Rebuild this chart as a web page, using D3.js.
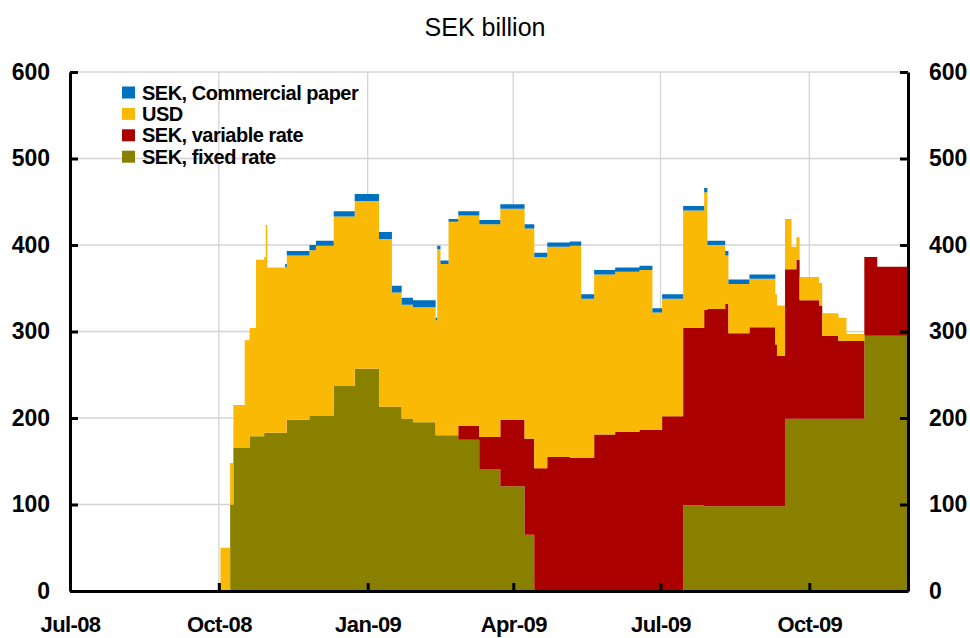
<!DOCTYPE html>
<html>
<head>
<meta charset="utf-8">
<script src="https://cdn.jsdelivr.net/npm/d3@7"></script>
<style>
    body { margin: 0; background: #fff; }
    svg text { font-family: "Liberation Sans", Arial, sans-serif; fill: #000; }
</style>
</head>
<body>
<svg id="chart" width="970" height="638"></svg>
<script>
// start dates of each step; every value holds until the next date
var dates = ["2008-10-02","2008-10-08","2008-10-10","2008-10-17","2008-10-20","2008-10-24",
    "2008-10-29","2008-10-30","2008-10-31","2008-11-11","2008-11-12","2008-11-26","2008-11-30",
    "2008-12-11","2008-12-24","2009-01-08","2009-01-16","2009-01-22","2009-01-29","2009-02-12",
    "2009-02-13","2009-02-15","2009-02-20","2009-02-26","2009-03-11","2009-03-24","2009-04-08",
    "2009-04-14","2009-04-22","2009-05-06","2009-05-13","2009-05-21","2009-06-03","2009-06-18",
    "2009-06-26","2009-07-02","2009-07-15","2009-07-28","2009-07-30","2009-08-10","2009-08-12",
    "2009-08-25","2009-09-10","2009-09-11","2009-09-16","2009-09-20","2009-09-23","2009-09-25",
    "2009-10-07","2009-10-09","2009-10-19","2009-10-24","2009-11-04","2009-11-12"];
var endDate = "2009-12-01";

var fixedRate = [0,100,166,166,179,179,183,183,183,183,198,203,203,237,257,213,213,199,195,180,
    180,180,180,175,141,121,65,0,0,0,0,0,0,0,0,0,99,98,98,98,98,98,98,98,199,199,199,199,199,199,
    199,199,295,295];
var variableRate = [0,0,0,0,0,0,0,0,0,0,0,0,0,0,0,0,0,0,0,0,0,0,0,16,37,77,111,142,155,154,154,
    181,184,186,186,202,205,227,228,234,200,207,187,174,173,173,184,137,131,96,90,90,91,80];
var usd = [50,48,49,124,125,204,203,240,191,191,190,191,196,196,194,194,132,132,133,133,215,198,
    247,243,246,244,243,244,243,245,184,185,185,185,136,136,136,136,74,56,57,56,58,58,58,26,26,27,
    26,26,27,8,0,0];
var commercialPaper = [0,0,0,0,0,0,0,0,0,4,5,6,6,6,8,8,8,8,8,3,4,4,3,5,5,5,5,5,5,5,5,5,5,5,5,5,5,
    5,5,5,5,5,0,0,0,0,0,0,0,0,0,0,0,0];

var yTicks = [0, 100, 200, 300, 400, 500, 600];
var seriesKeys = ["fixed", "variable", "usd", "cp"];
var seriesNames = ["SEK, fixed rate", "SEK, variable rate", "USD", "SEK, Commercial paper"];
var seriesColors = ["#8a8000", "#aa0000", "#f9b904", "#0070c0"];

var parse = d3.timeParse("%Y-%m-%d");

var rows = dates.map(function(d, i) {
    return {date: parse(d), fixed: fixedRate[i], variable: variableRate[i], usd: usd[i], cp: commercialPaper[i]};
});
var last = rows[rows.length - 1];
rows.push({date: parse(endDate), fixed: last.fixed, variable: last.variable, usd: last.usd, cp: last.cp});

var svg = d3.select("#chart");

var x = d3.scaleTime()
    .domain([new Date(2008, 6, 1), parse(endDate)])
    .range([70, 908]);
var y = d3.scaleLinear()
    .domain([0, 600])
    .range([591, 72]);

var quarters = d3.timeMonth.every(3).range(new Date(2008, 6, 1), new Date(2009, 10, 1));

// grid
svg.append("g").selectAll("line.h")
    .data(yTicks.slice(1))
    .enter().append("line")
    .attr("x1", 70).attr("x2", 908)
    .attr("y1", function(d) { return y(d); })
    .attr("y2", function(d) { return y(d); })
    .attr("stroke", "#d4d4d4").attr("stroke-width", 1.3);

svg.append("g").selectAll("line.v")
    .data(quarters.slice(1))
    .enter().append("line")
    .attr("y1", y(600)).attr("y2", y(0))
    .attr("x1", function(d) { return x(d); })
    .attr("x2", function(d) { return x(d); })
    .attr("stroke", "#d4d4d4").attr("stroke-width", 1.3);

// stacked step areas
var stacked = d3.stack().keys(seriesKeys)(rows);

var area = d3.area()
    .curve(d3.curveStepAfter)
    .x(function(d) { return x(d.data.date); })
    .y0(function(d) { return y(d[0]); })
    .y1(function(d) { return y(d[1]); });

svg.append("g").selectAll("path")
    .data(stacked)
    .enter().append("path")
    .attr("d", area)
    .attr("fill", function(d, i) { return seriesColors[i]; });

// axes
var fmt = d3.timeFormat("%b-%y");

var left = svg.append("g")
    .attr("transform", "translate(70,0)")
    .call(d3.axisLeft(y).tickValues(yTicks).tickSize(-8).tickSizeOuter(0).tickPadding(20));
var right = svg.append("g")
    .attr("transform", "translate(908,0)")
    .call(d3.axisRight(y).tickValues(yTicks).tickSize(-8).tickSizeOuter(0).tickPadding(21));
var bottom = svg.append("g")
    .attr("transform", "translate(0,591)")
    .call(d3.axisBottom(x).tickValues(quarters).tickFormat(fmt).tickSize(-8).tickSizeOuter(0).tickPadding(25));

[left, right, bottom].forEach(function(a) {
    a.select(".domain").attr("stroke", "#000").attr("stroke-width", 3);
    a.selectAll(".tick line").attr("stroke", "#000").attr("stroke-width", 3);
    a.selectAll(".tick text")
        .attr("font-family", "Liberation Sans, Arial, sans-serif")
        .attr("font-size", 23)
        .attr("font-weight", "bold")
        .attr("fill", "#000");
});
bottom.selectAll(".tick text").attr("font-size", 22).attr("letter-spacing", -0.6);

// legend
var legendOrder = [3, 2, 1, 0];
var legend = svg.append("g").selectAll("g")
    .data(legendOrder)
    .enter().append("g")
    .attr("transform", function(d, i) { return "translate(122," + (92.5 + i * 21.4) + ")"; });

legend.append("rect")
    .attr("x", 0).attr("y", -6)
    .attr("width", 13).attr("height", 12)
    .attr("fill", function(d) { return seriesColors[d]; });

legend.append("text")
    .attr("x", 20).attr("y", 7)
    .attr("font-size", 20)
    .attr("font-weight", "bold")
    .attr("letter-spacing", -0.5)
    .text(function(d) { return seriesNames[d]; });

// title
svg.append("text")
    .attr("x", 485).attr("y", 36)
    .attr("text-anchor", "middle")
    .attr("font-size", 25)
    .text("SEK billion");
</script>
</body>
</html>
